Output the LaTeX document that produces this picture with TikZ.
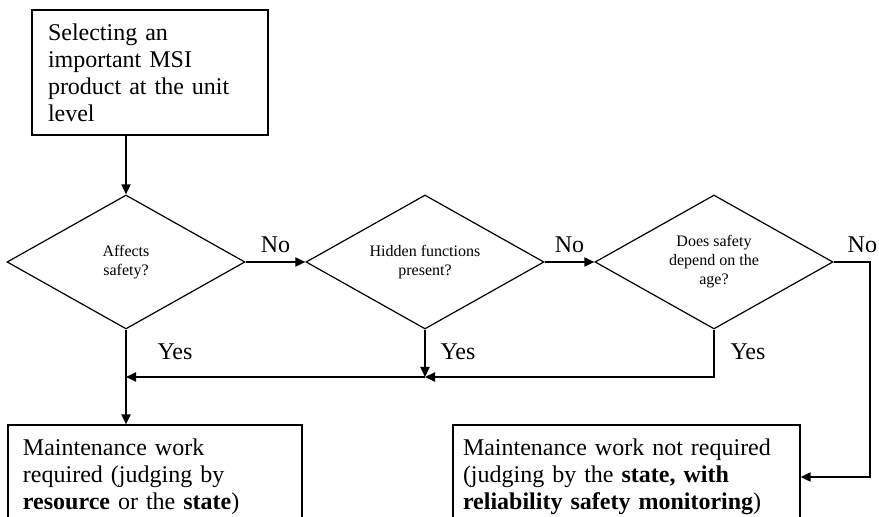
\documentclass[tikz,border=0pt]{standalone}
\usepackage{fontspec}
\setmainfont{Liberation Serif}
\usetikzlibrary{shapes.geometric,arrows.meta}

\begin{document}
\begin{tikzpicture}[x=0.5pt, y=-0.5pt,
  main/.style = {draw, rectangle, line width=0.6pt, align=left, inner ysep=2pt, font=\fontsize{12}{13.5}\selectfont},
  cond/.style = {draw, diamond, aspect=1.78, line width=0.6pt, minimum width=119pt, minimum height=67pt, inner sep=0pt, align=center, font=\fontsize{8}{9.5}\selectfont},
  lbl/.style = {font=\fontsize{12}{14}\selectfont},
  arr/.style = {line width=0.9pt, -{Triangle[length=5pt,width=4.5pt]}}]
\useasboundingbox (0,0) rectangle (879,517);
\clip (0,0) rectangle (879,517);

\node[main, minimum width=118pt, minimum height=62.5pt, text width=102pt, inner xsep=8pt] (1) at (150,72.5) {Selecting an\\important MSI\\product at the unit\\level};
\node[cond] (2) at (126,262) {Affects\\safety?};
\node[cond] (3) at (425,262) {Hidden functions\\present?};
\node[cond] (4) at (714,262) {Does safety\\depend on the\\age?};
\node[main, minimum width=147pt, minimum height=52pt, text width=132pt, inner xsep=7.5pt] (5) at (155,477) {Maintenance work\\required (judging by\\\textbf{resource} or the \textbf{state})};
\node[main, minimum width=173.5pt, minimum height=52pt, text width=163.5pt, inner xsep=5pt] (6) at (626.5,477) {Maintenance work not required\\(judging by the \textbf{state, with}\\\textbf{reliability safety monitoring})};
\coordinate (a) at (126,377);

\draw[arr] (1.south -| 2.north) -- (2.north);
\draw[arr] (2.east) -- node[lbl, above=1pt] {No} (3.west);
\draw[arr] (3.east) -- node[lbl, above=1pt] {No} (4.west);
\draw[arr] (4.east) -- node[lbl, above=1pt, pos=0.8] {No} ++(36,0) |- (6.east);
\draw[arr] (2.south) -- (2.south |- 5.north);
\draw[arr] (3.south) -- (3.south |- a);
\draw[arr] (4.south) |- (3.south |- a);
\draw[arr] (3.south |- a) -- (a);
\node[lbl] at (175,352) {Yes};
\node[lbl] at (458,352) {Yes};
\node[lbl] at (748,352) {Yes};
\end{tikzpicture}
\end{document}
